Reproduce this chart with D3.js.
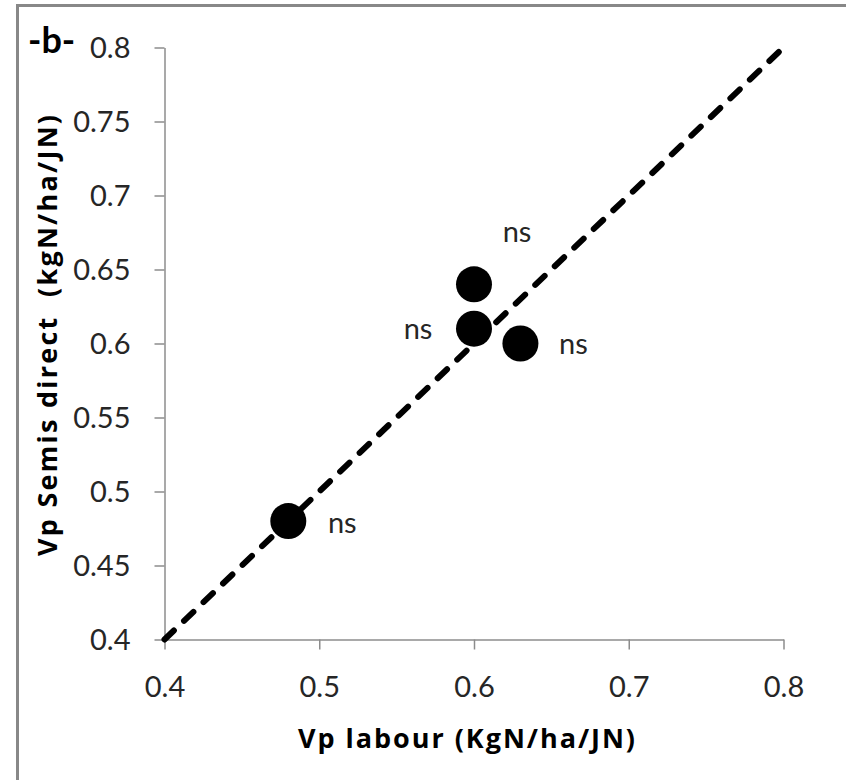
<!DOCTYPE html>
<html>
<head>
<meta charset="utf-8">
<script src="https://cdn.jsdelivr.net/npm/d3@7"></script>
<style>
  html, body { margin: 0; padding: 0; background: #fff; }
  svg text { font-family: Lato, "Open Sans", sans-serif; }
</style>
</head>
<body>
<div id="chart"></div>
<script>
// data
const vpLabour = [0.6, 0.6, 0.63, 0.48];
const vpSemisDirect = [0.64, 0.61, 0.6, 0.48];
const pointLabels = ["ns", "ns", "ns", "ns"];
const refLine = [[0.4, 0.4], [0.8, 0.8]];
const xTicks = [0.4, 0.5, 0.6, 0.7, 0.8];
const yTicks = [0.4, 0.45, 0.5, 0.55, 0.6, 0.65, 0.7, 0.75, 0.8];

// label offsets in px (Excel data label placement)
const labelDx = [43, -56, 53, 54];
const labelDy = [-42, 10, 10, 12];

const AXIS_GREY = "#8c8c8c";
const TEXT = "#262626";
const BLACK = "#000000";
const TITLE_FONT = "'Open Sans', Lato, sans-serif";

const width = 846;
const height = 780;

const svg = d3.select("#chart")
  .append("svg")
  .attr("width", width)
  .attr("height", height);

// outer frame (right/bottom edges run off the picture)
svg.append("rect")
  .attr("x", 17.5)
  .attr("y", 5.5)
  .attr("width", 900)
  .attr("height", 900)
  .attr("fill", "none")
  .attr("stroke", "#888888")
  .attr("stroke-width", 3);

const x = d3.scaleLinear().domain([0.4, 0.8]).range([164.5, 783.5]);
const y = d3.scaleLinear().domain([0.4, 0.8]).range([639.5, 47.5]);

////////////////////////////////////////////////////////////////////////////////////

const xAxis = svg.append("g")
  .attr("transform", `translate(0,${y(0.4)})`)
  .call(d3.axisBottom(x).tickValues(xTicks).tickSize(10).tickSizeOuter(0).tickFormat(d3.format("")));

const yAxis = svg.append("g")
  .attr("transform", `translate(${x(0.4)},0)`)
  .call(d3.axisLeft(y).tickValues(yTicks).tickSize(10).tickSizeOuter(0).tickFormat(d3.format("")));

[xAxis, yAxis].forEach((g) => {
  g.select(".domain").attr("stroke", AXIS_GREY).attr("stroke-width", 1.5);
  g.selectAll(".tick line").attr("stroke", AXIS_GREY).attr("stroke-width", 1.5);
  g.selectAll(".tick text")
    .attr("fill", TEXT)
    .style("font-size", "29px")
    .style("font-family", "Lato, sans-serif");
});

xAxis.selectAll(".tick text").attr("y", 57).attr("dy", 0);
yAxis.selectAll(".tick text").attr("x", -34).attr("dy", "0.36em");

// axis titles
svg.append("text")
  .attr("x", 466.5)
  .attr("y", 748)
  .attr("text-anchor", "middle")
  .attr("fill", BLACK)
  .attr("textLength", 337)
  .attr("lengthAdjust", "spacing")
  .style("font-family", TITLE_FONT)
  .style("font-size", "27px")
  .style("font-weight", "bold")
  .text("Vp labour (KgN/ha/JN)");

svg.append("text")
  .attr("transform", "translate(57,335.5) rotate(-90)")
  .attr("text-anchor", "middle")
  .attr("fill", BLACK)
  .attr("textLength", 441)
  .attr("lengthAdjust", "spacing")
  .style("font-family", TITLE_FONT)
  .style("font-size", "27px")
  .style("font-weight", "bold")
  .style("white-space", "pre")
  .text("Vp Semis direct  (kgN/ha/JN)");

// panel tag
svg.append("text")
  .attr("x", 28)
  .attr("y", 53)
  .attr("fill", BLACK)
  .style("font-size", "36px")
  .style("font-weight", "bold")
  .text("-b-");

////////////////////////////////////////////////////////////////////////////////////

const points = vpLabour.map((v, i) => ({ x: v, y: vpSemisDirect[i], label: pointLabels[i], dx: labelDx[i], dy: labelDy[i] }));

svg.append("g")
  .selectAll("circle")
  .data(points)
  .enter()
  .append("circle")
  .attr("cx", (d) => x(d.x))
  .attr("cy", (d) => y(d.y))
  .attr("r", 18)
  .attr("fill", BLACK);

svg.append("path")
  .datum(refLine)
  .attr("d", d3.line().x((d) => x(d[0])).y((d) => y(d[1])))
  .attr("fill", "none")
  .attr("stroke", BLACK)
  .attr("stroke-width", 6)
  .attr("stroke-linecap", "round")
  .attr("stroke-dasharray", "13,14");

svg.append("g")
  .selectAll("text")
  .data(points)
  .enter()
  .append("text")
  .attr("x", (d) => x(d.x) + d.dx)
  .attr("y", (d) => y(d.y) + d.dy)
  .attr("text-anchor", "middle")
  .attr("fill", TEXT)
  .style("font-size", "29px")
  .text((d) => d.label);
</script>
</body>
</html>
